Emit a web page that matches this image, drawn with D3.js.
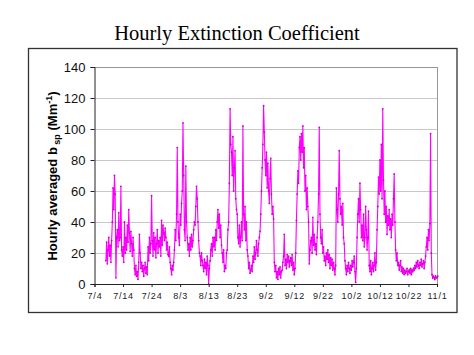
<!DOCTYPE html>
<html><head><meta charset="utf-8">
<script src="https://cdn.jsdelivr.net/npm/d3@7/dist/d3.min.js"></script>
<style>
html,body{margin:0;padding:0;background:#fff;}
svg{display:block;}
</style></head>
<body>
<svg id="chart" width="474" height="355"></svg>
<script>
// Hourly-averaged b_sp, sampled every 6 h, starting 7/8 00:00 (day 4 after 7/4)
const startDay = 4;
const stepDays = 0.25;
const julyValues = [
15,27,13,22, 30,18,25,14, 28,40,62,48, 70,58,4,30, 35,24,46,28, 30,63,22,18,
24,14,40,20, 30,22,38,27, 48,33,21,34, 26,18,30,22, 10,6,12,5, 8,3,14,32,
20,10,14,8, 12,5,10,14, 7,11,6,24, 15,30,20,26, 57,28,18,33, 22,30,17,26,
35,20,28,24, 30,18,41,25, 38,33,28,36, 30,22,27,19, 18,24,14,10, 6,12,9,14
];
const augustValues = [
22,35,28,45, 88,40,30,25, 45,38,52,60, 104,70,35,28, 76,40,30,22, 26,18,30,22,
32,24,28,35, 40,38,50,63, 55,40,28,20, 18,12,20,15, 12,8,16,10, 14,6,18,12,
0,10,15,22, 26,18,30,24, 30,22,35,28, 40,48,36,45, 30,38,25,20, 14,22,8,12,
10,20,22,35, 40,65,113,90, 85,70,95,60, 75,86,55,48, 45,30,26,38, 24,30,40,28,
102,45,35,50, 28,40,22,18, 10,14,7,9, 12,8,18,14, 24,16,20,28, 22,18,26,30,
34,45,60,75
];
const septemberValues = [
90,115,98,80, 70,85,62,78, 60,52,68,81, 58,45,50,42, 14,8,12,4, 8,3,10,6,
11,4,8,9, 14,18,32,12, 16,10,19,14, 18,11,15,17, 12,19,9,14, 6,10,20,41,
58,73,65,88, 95,80,97,85, 102,75,88,60, 70,48,62,50, 40,13,22,28, 30,20,43,25,
32,22,26,19, 30,40,58,101, 45,30,26,35, 20,24,15,18, 12,20,16,22, 14,19,10,17,
12,16,9,14, 10,6,12,62, 48,40,58,86, 55,45,50,38, 52,30,26,15, 10,6,12,8
];
const octoberValues = [
14,10,7,12, 9,15,11,14, 18,8,1,10, 30,45,55,40, 65,48,30,38, 28,45,24,30,
50,35,22,30, 47,12,8,15, 6,10,14,8, 12,20,9,14, 35,50,69,58, 80,60,90,55,
113,67,45,60, 40,50,32,44, 38,48,35,42, 30,45,38,55, 71,40,22,15, 20,12,14,9,
12,15,8,11, 7,10,6,9, 7,8,10,6, 8,9,7,10, 6,9,8,10, 9,12,10,14,
11,15,12,10, 14,12,16,11, 13,15,10,14, 18,24,30,22, 35,28,39,97, 20,6,4,5,
4,3,5,4
];
const novemberValues = [4,5];

const xTickLabels = ["7/4","7/14","7/24","8/3","8/13","8/23","9/2","9/12","9/22","10/2","10/12","10/22","11/1"];
const yTicks = [0,20,40,60,80,100,120,140];
const title = "Hourly Extinction Coefficient";

const allValues = [].concat(julyValues, augustValues, septemberValues, octoberValues, novemberValues);
const data = allValues.map((v,i)=>({day: startDay + i*stepDays, v}));

const svg = d3.select("#chart");
const m = {left: 94.5, right: 437, top: 67, bottom: 284};

// outer frame
svg.append("rect").attr("x",28.5).attr("y",48.5).attr("width",428.5).attr("height",264)
  .attr("fill","none").attr("stroke","#333").attr("stroke-width",1.3);

// title
svg.append("text").attr("x",237).attr("y",39.5).attr("text-anchor","middle")
  .attr("font-family","'Liberation Serif','Times New Roman',serif").attr("font-size",20.5)
  .attr("fill","#000").text(title);

const x = d3.scaleLinear().domain([0,120]).range([m.left, m.right]);
const y = d3.scaleLinear().domain([0,140]).range([m.bottom, m.top]);

// gridlines
svg.append("g").selectAll("line").data(yTicks.filter(t=>t>0)).join("line")
  .attr("x1",m.left).attr("x2",m.right)
  .attr("y1",d=>Math.round(y(d))+0.5).attr("y2",d=>Math.round(y(d))+0.5)
  .attr("stroke","#c8c8c8").attr("stroke-width",1);
// right border
svg.append("line").attr("x1",m.right+0.5).attr("x2",m.right+0.5).attr("y1",m.top).attr("y2",m.bottom)
  .attr("stroke","#999").attr("stroke-width",1);
svg.append("line").attr("x1",m.left).attr("x2",m.right).attr("y1",Math.round(y(140))+0.5).attr("y2",Math.round(y(140))+0.5)
  .attr("stroke","#999").attr("stroke-width",1);

// line + markers
const line = d3.line().x(d=>x(d.day)).y(d=>y(d.v));
svg.append("path").datum(data).attr("d",line).attr("fill","none")
  .attr("stroke","#ff00ff").attr("stroke-width",1.1);
svg.append("g").selectAll("circle").data(data).join("circle")
  .attr("cx",d=>x(d.day)).attr("cy",d=>y(d.v)).attr("r",0.9).attr("fill","#cc00cc");

// y axis
const yAxis = d3.axisLeft(y).tickValues(yTicks).tickSize(4).tickPadding(5);
const gy = svg.append("g").attr("transform",`translate(${m.left},0)`).call(yAxis);
gy.selectAll("text").attr("font-family","'Liberation Sans',Arial,sans-serif").attr("font-size",13).attr("fill","#111");
gy.select(".domain").attr("stroke","#222");
gy.selectAll(".tick line").attr("stroke","#222");

// x axis
const xAxis = d3.axisBottom(x).tickValues(d3.range(0,121,10)).tickFormat((d,i)=>xTickLabels[i]).tickSize(3).tickPadding(6);
const gx = svg.append("g").attr("transform",`translate(0,${m.bottom})`).call(xAxis);
gx.selectAll("text").attr("font-family","'Liberation Sans',Arial,sans-serif").attr("font-size",9)
  .attr("letter-spacing","0.8px").attr("fill","#222");
gx.select(".domain").attr("stroke","#222");
gx.selectAll(".tick line").attr("stroke","#222");

// y axis title
const yt = svg.append("text").attr("transform","translate(57,176) rotate(-90)")
  .attr("text-anchor","middle").attr("font-family","'Liberation Sans',Arial,sans-serif")
  .attr("font-weight","bold").attr("font-size",13).attr("fill","#000");
yt.append("tspan").text("Hourly averaged b");
yt.append("tspan").attr("font-size",9).attr("dy",3).text(" sp");
yt.append("tspan").attr("dy",-3).text(" (Mm");
yt.append("tspan").attr("font-size",9).attr("dy",-5).text("-1");
yt.append("tspan").attr("dy",5).text(")");
</script>
</body></html>
